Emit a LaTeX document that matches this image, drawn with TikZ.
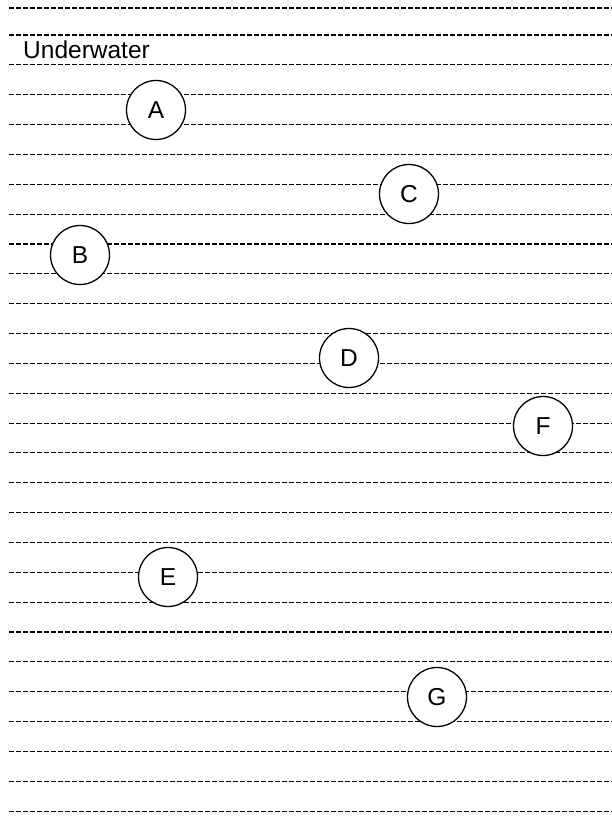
\documentclass[tikz,border=0pt]{standalone}
\usepackage{fontspec}
\setmainfont{Liberation Sans}
\usepackage{tikz}
\usetikzlibrary{positioning}

\begin{document}
\begin{tikzpicture}[
    x=1pt, y=-1pt,
    font=\fontsize{24.5}{28}\selectfont,
    depth/.style={dash pattern=on 5pt off 2pt, line width=1.1pt},
    spot/.style={draw, circle, fill=white, minimum size=59pt, inner sep=0pt, line width=1.3pt}
]
\useasboundingbox (0,0) rectangle (612,839);

% depth lines
\draw[depth] (9,8) -- (612,8);
\foreach \k in {0,...,26}
    \draw[depth] (9,35+29.85*\k) -- (612,35+29.85*\k);

\node[anchor=base west, inner sep=0pt] (title) at (23,58) {Underwater};

\node[spot] (A) at (156,110) {A};
\node[spot] (B) at (80,255) {B};
\node[spot] (C) at (409,194) {C};
\node[spot] (D) at (349,358) {D};
\node[spot] (F) at (543,426) {F};
\node[spot] (E) at (168,577) {E};
\node[spot] (G) at (437,697) {G};
\end{tikzpicture}
\end{document}
